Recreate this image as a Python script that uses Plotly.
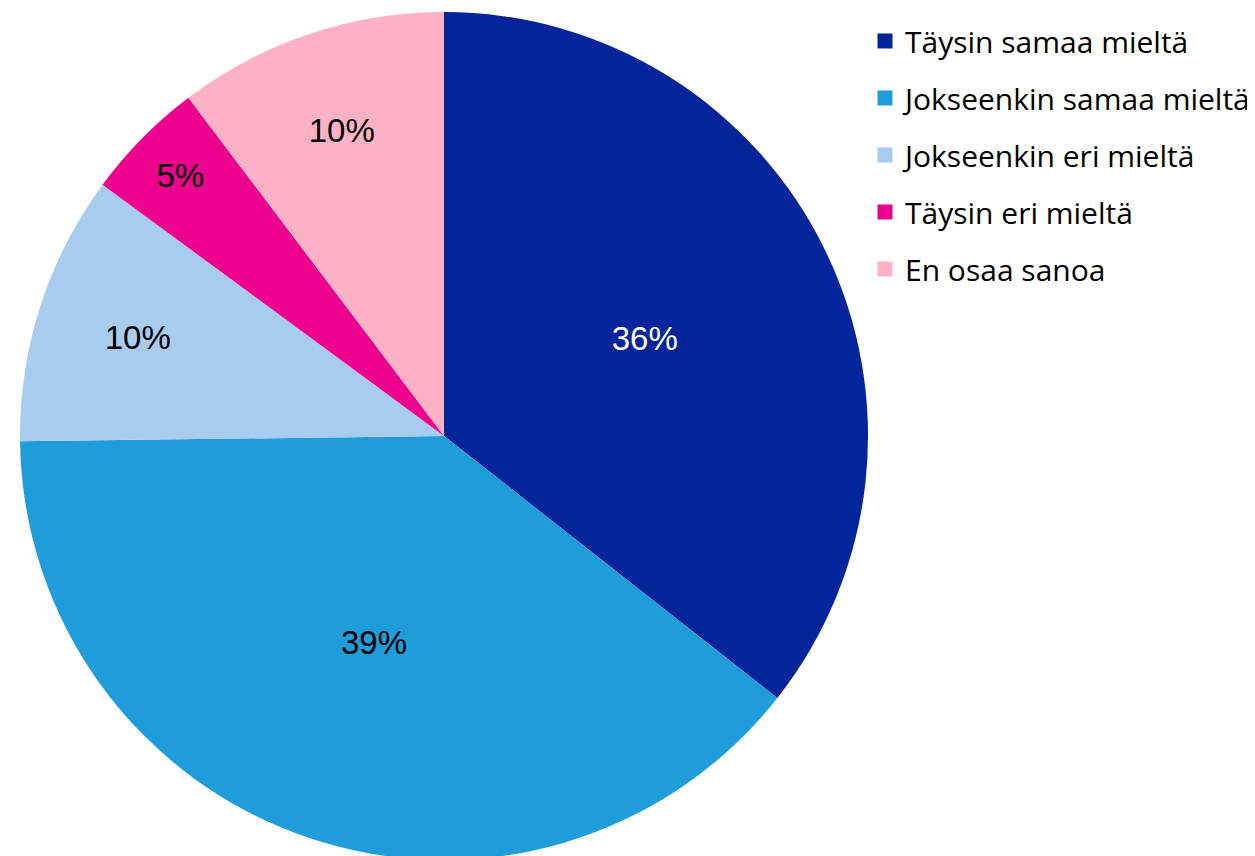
import plotly.graph_objects as go

labels = ["Täysin samaa mieltä", "Jokseenkin samaa mieltä", "Jokseenkin eri mieltä",
          "Täysin eri mieltä", "En osaa sanoa"]
values = [35.6, 39.2, 10.3, 4.6, 10.3]
colors = ["#00249A", "#1F9DDA", "#A8CCF0", "#EC028C", "#FFB1C5"]
text_colors = ["white", "black", "black", "black", "black"]

W, H = 1255, 856
fig = go.Figure()
fig.add_trace(go.Pie(
    labels=labels, values=values, sort=False, direction="clockwise", rotation=0,
    marker=dict(colors=colors, line=dict(width=0)),
    texttemplate="%{percent:.0%}", textposition="inside",
    insidetextorientation="horizontal",
    textfont=dict(family="Liberation Sans, Arial", size=33, color=text_colors),
    showlegend=False, hoverinfo="label+percent",
    domain=dict(x=[12 / W, 860 / W], y=[0, 1]),
))
for i, (lab, col) in enumerate(zip(labels, colors)):
    fig.add_trace(go.Scatter(
        x=[None], y=[None], mode="markers", name=lab, legendgroup=f"g{i}",
        marker=dict(symbol="square", size=15, color=col),
    ))

fig.update_layout(
    width=W, height=H,
    margin=dict(l=0, r=0, t=4, b=4),
    paper_bgcolor="white", plot_bgcolor="white",
    xaxis=dict(visible=False), yaxis=dict(visible=False),
    legend=dict(
        x=857 / W, xanchor="left", y=1 - 3 / H, yanchor="top",
        font=dict(family="Open Sans, Liberation Sans", size=30, color="black"),
        tracegroupgap=15, itemsizing="trace",
    ),
)
fig.write_html("out.html")
